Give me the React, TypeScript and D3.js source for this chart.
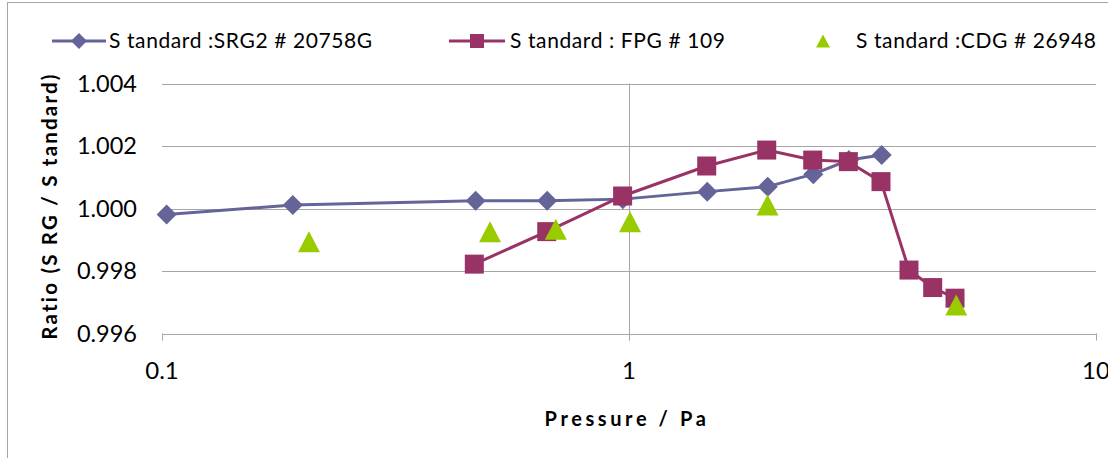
import React from "react";
import * as d3 from "d3";

const srgP = [0.1023, 0.1906, 0.4696, 0.668, 0.97, 1.471, 1.982, 2.481, 2.958, 3.476];
const srgR = [0.99981, 1.00011, 1.00025, 1.00025, 1.0003, 1.00054, 1.0007, 1.0011, 1.00155, 1.00171];

const fpgP = [0.4664, 0.6666, 0.969, 1.467, 1.972, 2.474, 2.949, 3.464, 3.977, 4.47, 4.99];
const fpgR = [0.99822, 0.99926, 1.0004, 1.00136, 1.00187, 1.00155, 1.0015, 1.00086, 0.99803, 0.99747, 0.99713];

const cdgP = [0.2064, 0.504, 0.697, 1.005, 1.98, 5.02];
const cdgR = [0.99894, 0.99926, 0.99934, 0.99958, 1.00011, 0.99691];

const yTicks = [0.996, 0.998, 1.0, 1.002, 1.004];
const xTicks = [0.1, 1, 10];
const xTickLabels = ["0.1", "1", "10"];

const legendLabels = ["S tandard :SRG2 # 20758G", "S tandard : FPG # 109", "S tandard :CDG # 26948"];

const C_SRG = "#646499";
const C_FPG = "#993366";
const C_CDG = "#99CC00";
const GRID = "#A6A6A6";
const FONT = "Lato, 'Open Sans', sans-serif";

export default function App() {
  const x = d3.scaleLog().domain([0.1, 10]).range([162, 1096]);
  const y = d3.scaleLinear().domain([0.996, 1.004]).range([333.5, 83.5]);
  const line = d3
    .line<[number, number]>()
    .x((d) => x(d[0]))
    .y((d) => y(d[1]));

  const srg: [number, number][] = srgP.map((p, i) => [p, srgR[i]]);
  const fpg: [number, number][] = fpgP.map((p, i) => [p, fpgR[i]]);
  const cdg: [number, number][] = cdgP.map((p, i) => [p, cdgR[i]]);

  const diamond = (cx: number, cy: number, r = 10) =>
    `M${cx},${cy - r}L${cx + r},${cy}L${cx},${cy + r}L${cx - r},${cy}Z`;
  const tri = (cx: number, cy: number, w = 22, h = 21) =>
    `M${cx},${cy - h / 2}L${cx + w / 2},${cy + h / 2}L${cx - w / 2},${cy + h / 2}Z`;
  const sq = 19;

  const x0 = x(0.1);
  const x1 = x(10);
  const yAxisX = x(1);
  const yBottom = y(0.996);

  return (
    <svg
      width={1108}
      height={458}
      style={{ position: "absolute", left: 0, top: 0, background: "#fff" }}
      fontFamily={FONT}
    >
      <rect x={7.5} y={2.5} width={1120} height={470} fill="#fff" stroke={GRID} strokeWidth={1} />

      {/* gridlines */}
      {yTicks.map((t) => (
        <line key={t} x1={x0} x2={x1} y1={Math.round(y(t)) + 0.5} y2={Math.round(y(t)) + 0.5} stroke={GRID} strokeWidth={1} />
      ))}
      {/* y axis at x=1 */}
      <line x1={Math.round(yAxisX) + 0.5} x2={Math.round(yAxisX) + 0.5} y1={y(1.004)} y2={yBottom + 7} stroke={GRID} strokeWidth={1} />
      {yTicks.map((t) => (
        <line key={"yt" + t} x1={yAxisX - 6} x2={yAxisX} y1={Math.round(y(t)) + 0.5} y2={Math.round(y(t)) + 0.5} stroke={GRID} />
      ))}
      {xTicks.map((t) => (
        <line key={"xt" + t} x1={Math.round(x(t)) + 0.5} x2={Math.round(x(t)) + 0.5} y1={yBottom} y2={yBottom + 7} stroke={GRID} />
      ))}

      {/* y tick labels */}
      {yTicks.map((t) => (
        <text key={"yl" + t} x={137} y={y(t) + 8} textAnchor="end" fontSize={23.5} fill="#000">
          {d3.format(".3f")(t)}
        </text>
      ))}
      {/* x tick labels */}
      {xTicks.map((t, i) => (
        <text key={"xl" + t} x={x(t)} y={379} textAnchor="middle" fontSize={24} fill="#000">
          {xTickLabels[i]}
        </text>
      ))}

      {/* axis titles */}
      <text
        transform={`translate(57,206) rotate(-90)`}
        textAnchor="middle"
        fontSize={20.5}
        fontWeight="bold"
        letterSpacing={2.2}
        fill="#000"
      >
        Ratio (S RG / S tandard)
      </text>
      <text x={627} y={426} textAnchor="middle" fontSize={20} fontWeight="bold" letterSpacing={3.6} fill="#000">
        Pressure / Pa
      </text>

      {/* series lines */}
      <path d={line(srg) || ""} fill="none" stroke={C_SRG} strokeWidth={3} />
      {srg.map((d, i) => (
        <path key={"sd" + i} d={diamond(x(d[0]), y(d[1]))} fill={C_SRG} />
      ))}
      <path d={line(fpg) || ""} fill="none" stroke={C_FPG} strokeWidth={3} />
      {fpg.map((d, i) => (
        <rect key={"fs" + i} x={x(d[0]) - sq / 2} y={y(d[1]) - sq / 2} width={sq} height={sq} fill={C_FPG} />
      ))}
      {cdg.map((d, i) => (
        <path key={"ct" + i} d={tri(x(d[0]), y(d[1]))} fill={C_CDG} />
      ))}

      {/* legend */}
      <g>
        <line x1={52} x2={106} y1={41} y2={41} stroke={C_SRG} strokeWidth={3} />
        <path d={diamond(79, 41, 8)} fill={C_SRG} />
        <text x={109} y={48} fontSize={21} letterSpacing={0.6} fill="#000">{legendLabels[0]}</text>

        <line x1={449} x2={505} y1={41} y2={41} stroke={C_FPG} strokeWidth={3} />
        <rect x={470} y={34} width={14} height={14} fill={C_FPG} />
        <text x={510} y={48} fontSize={21} letterSpacing={0.6} fill="#000">{legendLabels[1]}</text>

        <path d={tri(823, 41, 14, 13)} fill={C_CDG} />
        <text x={856} y={48} fontSize={21} letterSpacing={0.6} fill="#000">{legendLabels[2]}</text>
      </g>
    </svg>
  );
}
